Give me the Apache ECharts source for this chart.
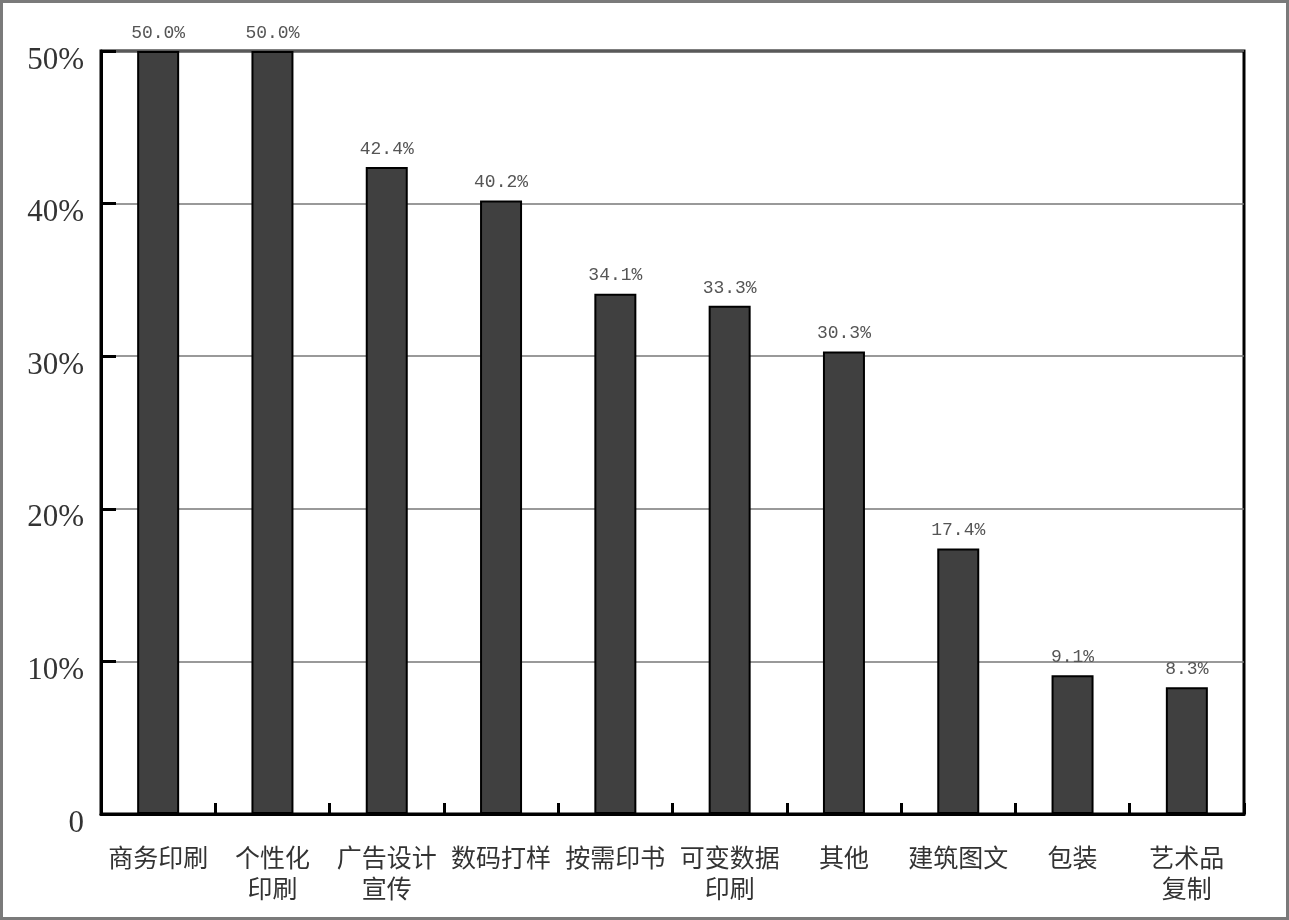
<!DOCTYPE html>
<html>
<head>
<meta charset="utf-8">
<script src="https://cdn.jsdelivr.net/npm/echarts@6/dist/echarts.min.js"></script>
<style>
html,body{margin:0;padding:0;background:#fff;}
#frame{position:absolute;left:0;top:0;width:1289px;height:920px;box-sizing:border-box;border:3px solid #7a7a7a;}
#chart{position:absolute;left:0;top:0;width:1289px;height:920px;}
</style>
</head>
<body>
<div id="frame"></div>
<div id="chart"></div>
<script>
const categories = ['商务印刷', '个性化\n印刷', '广告设计\n宣传', '数码打样', '按需印书', '可变数据\n印刷', '其他', '建筑图文', '包装', '艺术品\n复制'];
const values = [50.0, 50.0, 42.4, 40.2, 34.1, 33.3, 30.3, 17.4, 9.1, 8.3];
const yTicks = [0, 10, 20, 30, 40, 50];

const chart = echarts.init(document.getElementById('chart'), null, {renderer: 'canvas'});
chart.setOption({
  animation: false,
  backgroundColor: 'transparent',
  grid: {left: 101, right: 45, top: 51, bottom: 106, show: true, borderColor: '#000', borderWidth: 3, backgroundColor: 'transparent'},
  xAxis: {
    type: 'category',
    data: categories,
    boundaryGap: true,
    axisLine: {show: true, lineStyle: {color: '#000', width: 3}},
    axisTick: {show: true, inside: true, length: 11, alignWithLabel: false, lineStyle: {color: '#000', width: 3}},
    axisLabel: {
      interval: 0,
      margin: 28,
      fontFamily: 'Noto Sans CJK SC',
      fontSize: 25,
      lineHeight: 31,
      color: '#333',
      align: 'center'
    }
  },
  yAxis: {
    type: 'value',
    min: yTicks[0],
    max: yTicks[yTicks.length - 1],
    interval: 10,
    axisLine: {show: true, lineStyle: {color: '#000', width: 3}},
    axisTick: {show: true, inside: true, length: 15, lineStyle: {color: '#000', width: 3}},
    splitLine: {show: true, lineStyle: {color: '#777', width: 1.5}},
    axisLabel: {
      margin: 17,
      formatter: v => '{a|' + (v === 0 ? '0' : v + '%') + '}',
      rich: {
        a: {
          fontFamily: 'Liberation Serif',
          fontSize: 31,
          color: '#333',
          padding: [19, 0, 0, 0]
        }
      }
    }
  },
  series: [{
    type: 'bar',
    data: values,
    barWidth: 42,
    z: 3,
    itemStyle: {color: '#404040', borderColor: '#000', borderWidth: 2},
    label: {
      show: true,
      position: 'top',
      distance: 9,
      fontFamily: 'Liberation Mono',
      fontSize: 18,
      color: '#555',
      formatter: p => p.value.toFixed(1) + '%'
    }
  }]
});
</script>
</body>
</html>
